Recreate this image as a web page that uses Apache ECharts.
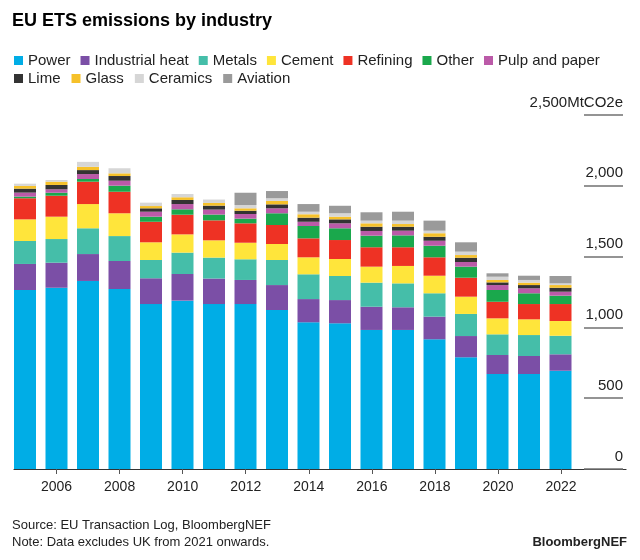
<!DOCTYPE html>
<html>
<head>
<meta charset="utf-8">
<script src="https://cdn.jsdelivr.net/npm/echarts@6/dist/echarts.min.js"></script>
<style>
html,body{margin:0;padding:0;background:#fff;}
#c{width:640px;height:560px;}
</style>
</head>
<body>
<div id="c"></div>
<script>
const years = ['2005','2006','2007','2008','2009','2010','2011','2012','2013','2014','2015','2016','2017','2018','2019','2020','2021','2022','2023','2024'];
const tickYears = [2006,2008,2010,2012,2014,2016,2018,2020,2022];
const yTicks = [0,500,1000,1500,2000,2500];

const power        = [1264,1280,1328,1271,1165,1189,1165,1165,1123,1036,1029,982,982,916,789,671,671,694];
const industrialHeat=[184,177,190,198,182,188,180,170,176,164,164,164,160,160,150,134,127,116];
const metals       = [162,167,182,176,129,151,148,146,177,175,170,170,169,165,156,146,148,131];
const cement       = [153,158,171,161,125,129,122,117,113,120,120,113,123,124,122,113,111,104];
const refining     = [149,148,158,152,145,139,141,137,134,134,134,137,132,130,134,117,108,120];
const other        = [12,21,19,43,36,38,41,33,83,87,83,82,84,82,78,83,76,59];
const pulpPaper    = [28,24,35,35,35,37,35,33,35,30,35,33,33,35,33,35,35,28];
const lime         = [28,31,28,33,24,29,28,23,28,29,28,30,28,28,30,19,23,28];
const glass        = [19,23,23,19,16,19,19,17,24,24,19,24,19,25,19,17,17,19];
const ceramics     = [16,12,35,36,24,23,24,23,19,18,24,19,24,18,24,23,19,12];
const aviation     = [0,0,0,0,0,0,0,87,51,54,53,59,63,71,66,24,30,52];

const seriesDefs = [
  ['Power', power, '#00ade6'],
  ['Industrial heat', industrialHeat, '#7b4fa6'],
  ['Metals', metals, '#45bea9'],
  ['Cement', cement, '#ffe53b'],
  ['Refining', refining, '#ee3224'],
  ['Other', other, '#1aa84c'],
  ['Pulp and paper', pulpPaper, '#bb5aa8'],
  ['Lime', lime, '#333333'],
  ['Glass', glass, '#f6c12a'],
  ['Ceramics', ceramics, '#d6d6d6'],
  ['Aviation', aviation, '#9a9a9a']
];

const FONT = "'Liberation Sans', Arial, sans-serif";
function fmt(v){ return String(v).replace(/\B(?=(\d{3})+(?!\d))/g, ','); }

const chart = echarts.init(document.getElementById('c'), null, {renderer:'canvas'});
const legendText = {fontSize:15, color:'#222', fontFamily:FONT};
chart.setOption({
  animation:false,
  backgroundColor:'#fff',
  color: seriesDefs.map(d=>d[2]),
  title:{text:'EU ETS emissions by industry', left:12, top:12, padding:0,
    textStyle:{fontSize:18, fontWeight:'bold', color:'#000', fontFamily:FONT}},
  legend:[
    {data:seriesDefs.slice(0,7).map(d=>d[0]), left:14, top:53, icon:'rect', itemWidth:9, itemHeight:9, itemGap:10, textStyle:legendText, padding:0},
    {data:seriesDefs.slice(7).map(d=>d[0]), left:14, top:71, icon:'rect', itemWidth:9, itemHeight:9, itemGap:11, textStyle:legendText, padding:0}
  ],
  grid:[
    {left:9.25, right:0.75, top:115, bottom:91, containLabel:false},
    {left:14, right:14, top:115, bottom:91, containLabel:false}
  ],
  xAxis:[
    {type:'category', gridIndex:0, data:years, boundaryGap:true,
      axisLine:{show:false}, axisTick:{show:false}, axisLabel:{show:false}, splitLine:{show:false}},
    {type:'value', gridIndex:1, min:2004.651, max:2024.06,
      splitLine:{show:false},
      axisLine:{show:true, lineStyle:{color:'#333', width:1.2}},
      axisTick:{show:true, customValues:tickYears, length:5, lineStyle:{color:'#555'}},
      axisLabel:{customValues:tickYears, formatter:v=>String(v), fontSize:14, color:'#222', fontFamily:FONT, margin:11}}
  ],
  yAxis:[
    {type:'value', gridIndex:0, min:0, max:2500, show:false, splitLine:{show:false}},
    {type:'value', gridIndex:1, position:'right', offset:-3, min:0, max:2500, interval:500,
      splitLine:{show:false},
      axisLine:{show:false},
      axisTick:{show:true, inside:true, length:39, lineStyle:{color:'#707070', width:1.6}},
      axisLabel:{inside:true, margin:0, verticalAlign:'bottom', padding:[0,0,5,0],
        fontSize:15, color:'#222', fontFamily:FONT,
        formatter:v=> v===2500 ? '2,500MtCO2e' : fmt(v)}}
  ],
  series: seriesDefs.map(d=>({
    name:d[0], type:'bar', stack:'total', barWidth:22,
    xAxisIndex:0, yAxisIndex:0,
    itemStyle:{color:d[2]},
    data: d[1]
  })),
  graphic:[
    {type:'text', left:12, top:519, style:{text:'Source: EU Transaction Log, BloombergNEF', fontSize:13, fill:'#222', fontFamily:FONT}},
    {type:'text', left:12, top:536, style:{text:'Note: Data excludes UK from 2021 onwards.', fontSize:13, fill:'#222', fontFamily:FONT}},
    {type:'text', right:13, top:536, style:{text:'BloombergNEF', fontSize:13, fontWeight:'bold', fill:'#222', fontFamily:FONT}}
  ]
});
</script>
</body>
</html>
